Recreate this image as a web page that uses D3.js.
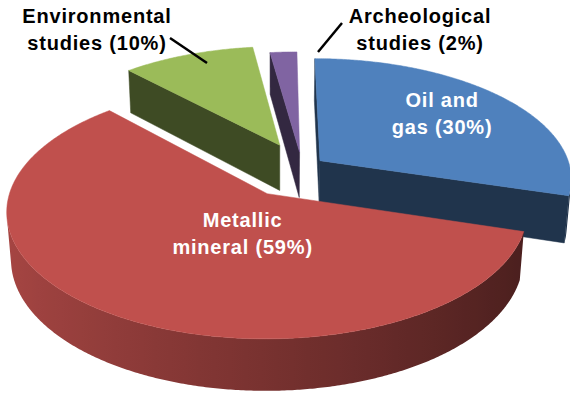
<!DOCTYPE html>
<html><head><meta charset="utf-8">
<script src="https://cdn.jsdelivr.net/npm/d3@7/dist/d3.min.js"></script>
<style>body{margin:0;background:#fff}svg{display:block}</style>
</head><body>
<script>
// ---- data ----
const categories = ["Oil and gas", "Metallic mineral", "Environmental studies", "Archeological studies"];
const values = [30, 59, 10, 2];
const labelLines = [["Oil and", "gas (30%)"], ["Metallic", "mineral (59%)"], ["Environmental", "studies (10%)"], ["Archeological", "studies (2%)"]];
const colors = ["#4f81bd", "#c0504d", "#9bbb59", "#8064a2"];

// ---- layout / style ----
const W = 570, H = 395;
const explode = [0.091, 0.26, 0.21, 0.13];
const view = {phi: Math.asin(0.47), D: 6.5, f: 1625, h: 0.212, camX: -0.1, sx0: 277, sy0: 167};
const labelStyle = {size: 20, lineGap: 27, spacing: 0.8};
const insideLabel = {0: {r: 0.6, dx: 10, dy: -14}, 1: {r: 0.25, dx: 11, dy: 6}};
const outsideLabel = {2: {x: 97, y: 23, line: [170, 38, 207, 63]}, 3: {x: 420, y: 23, line: [318, 52, 342, 23]}};

const svg = d3.select("body").append("svg").attr("width", W).attr("height", H);
const defs = svg.append("defs");

const cosP = Math.cos(view.phi), sinP = Math.sin(view.phi);
function project(X, Y, Z) {
  const u = Y * cosP + Z * sinP;
  const w = view.D + Z * cosP - Y * sinP;
  return [view.sx0 + view.f * (X - view.camX) / w, view.sy0 - view.f * u / w];
}
const cam = [view.camX, view.D * sinP, -view.D * cosP];

const pie = d3.pie().sort(null).value(d => d)(values);
const line = d3.line();

function shade(hex, k) {
  const c = d3.rgb(hex);
  return d3.rgb(c.r * k, c.g * k, c.b * k).formatHex();
}
function visible(n, p) {
  return n[0] * (cam[0] - p[0]) + n[1] * (cam[1] - p[1]) + n[2] * (cam[2] - p[2]) > 0;
}
const sideK = a => 0.625 - 0.245 * Math.sin(a);

const slices = pie.map((s, i) => {
  const mid = (s.startAngle + s.endAngle) / 2;
  const ox = explode[i] * Math.sin(mid), oz = explode[i] * Math.cos(mid);
  return {s, i, mid, ox, oz};
});
const order = slices.slice().sort((a, b) => b.oz - a.oz);

const g = svg.append("g");
order.forEach(sl => {
  const {s, i, ox, oz} = sl;
  const a0 = s.startAngle, a1 = s.endAngle;
  const col = colors[i];
  const h = view.h;
  const P = (a, r, y) => [ox + r * Math.sin(a), y, oz + r * Math.cos(a)];
  // cut faces
  [[a0, a0 - Math.PI / 2], [a1, a1 + Math.PI / 2]].forEach(([a, na]) => {
    const n = [Math.sin(na), 0, Math.cos(na)];
    if (visible(n, P(a, 0.5, -h / 2))) {
      const pts = [P(0, 0, 0), P(a, 1, 0), P(a, 1, -h), P(0, 0, -h)];
      const c = shade(col, 0.4);
      g.append("path").attr("d", line(pts.map(p => project(...p))) + "Z")
        .attr("fill", c).attr("stroke", c).attr("stroke-width", 0.5).attr("stroke-linejoin", "round");
    }
  });
  // outer side: contiguous visible ranges, one path each with a gradient
  const steps = Math.max(4, Math.ceil((a1 - a0) / (Math.PI / 360)));
  const angs = d3.range(steps + 1).map(k => a0 + (a1 - a0) * k / steps);
  const vis = angs.map(a => visible([Math.sin(a), 0, Math.cos(a)], P(a, 1, -h / 2)));
  let runs = [], cur = null;
  angs.forEach((a, k) => {
    if (vis[k]) { if (!cur) { cur = []; runs.push(cur); } cur.push(a); }
    else cur = null;
  });
  runs.forEach((run, ri) => {
    if (run.length < 2) return;
    const topPts = run.map(a => project(...P(a, 1, 0)));
    const botPts = run.map(a => project(...P(a, 1, -h))).reverse();
    const xs = topPts.map(p => p[0]);
    const xmin = d3.min(xs), xmax = d3.max(xs);
    const id = `side${i}_${ri}`;
    const grad = defs.append("linearGradient").attr("id", id)
      .attr("gradientUnits", "userSpaceOnUse").attr("x1", xmin).attr("x2", xmax).attr("y1", 0).attr("y2", 0);
    const stops = run.map((a, k) => ({o: xmax > xmin ? (xs[k] - xmin) / (xmax - xmin) : 0, c: shade(col, sideK(a))}))
      .sort((p, q) => p.o - q.o);
    stops.filter((st, k) => k % 6 === 0 || k === stops.length - 1)
      .forEach(st => grad.append("stop").attr("offset", st.o).attr("stop-color", st.c));
    g.append("path").attr("d", line(topPts.concat(botPts)) + "Z")
      .attr("fill", `url(#${id})`);
  });
  // top face
  const top = [P(0, 0, 0)].concat(angs.map(a => P(a, 1, 0)));
  g.append("path")
    .attr("d", line(top.map(p => project(...p))) + "Z")
    .attr("fill", col).attr("stroke", col).attr("stroke-width", 0.5);
});

// labels
const font = "'Liberation Sans', Arial, sans-serif";
function drawLabel(x, y, lines, fill) {
  const t = svg.append("text").attr("text-anchor", "middle")
    .attr("font-family", font).attr("font-weight", "bold")
    .attr("font-size", labelStyle.size).attr("letter-spacing", labelStyle.spacing).attr("fill", fill);
  lines.forEach((ln, j) => t.append("tspan").attr("x", x).attr("y", y + j * labelStyle.lineGap).text(ln));
}
slices.forEach(sl => {
  const i = sl.i;
  if (insideLabel[i]) {
    const L = insideLabel[i];
    const p = project(sl.ox + L.r * Math.sin(sl.mid), 0, sl.oz + L.r * Math.cos(sl.mid));
    drawLabel(p[0] + L.dx, p[1] + L.dy, labelLines[i], "#ffffff");
  } else if (outsideLabel[i]) {
    const L = outsideLabel[i];
    drawLabel(L.x, L.y, labelLines[i], "#000000");
    svg.append("line").attr("x1", L.line[0]).attr("y1", L.line[1]).attr("x2", L.line[2]).attr("y2", L.line[3])
      .attr("stroke", "#000").attr("stroke-width", 2.5);
  }
});
</script>
</body></html>
